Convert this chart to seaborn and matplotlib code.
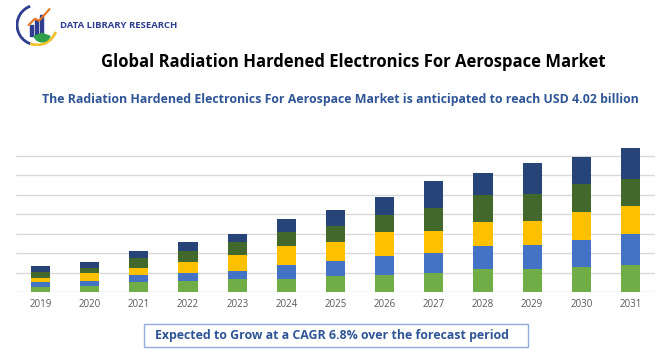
import matplotlib
matplotlib.use('Agg')
import matplotlib.pyplot as plt
import seaborn as sns
import numpy as np
import pandas as pd
from matplotlib.patches import Rectangle, Arc, Wedge

# 数据
years = ['2019', '2020', '2021', '2022', '2023', '2024', '2025',
         '2026', '2027', '2028', '2029', '2030', '2031']
seg1 = [0.24, 0.29, 0.50, 0.55, 0.65, 0.68, 0.81, 0.89, 0.99, 1.17, 1.20, 1.28, 1.40]
seg2 = [0.29, 0.26, 0.36, 0.41, 0.43, 0.69, 0.77, 0.94, 1.00, 1.18, 1.23, 1.40, 1.59]
seg3 = [0.21, 0.41, 0.39, 0.60, 0.82, 0.98, 1.01, 1.23, 1.13, 1.23, 1.23, 1.42, 1.42]
seg4 = [0.31, 0.29, 0.50, 0.56, 0.65, 0.75, 0.82, 0.89, 1.18, 1.40, 1.39, 1.42, 1.39]
seg5 = [0.29, 0.29, 0.34, 0.43, 0.43, 0.65, 0.79, 0.94, 1.42, 1.14, 1.56, 1.40, 1.59]
seg_colors = ['#70AD47', '#4472C4', '#FFC000', '#43682B', '#264478']

title = 'Global Radiation Hardened Electronics For Aerospace Market'
subtitle = 'The Radiation Hardened Electronics For Aerospace Market is anticipated to reach USD 4.02 billion'
footer = 'Expected to Grow at a CAGR 6.8% over the forecast period'

sns.set_style('white')
plt.rcParams['font.family'] = ['Open Sans', 'DejaVu Sans']

fig = plt.figure(figsize=(6.7, 3.5), dpi=100)
ax = fig.add_axes([16 / 670, 58 / 350, 639 / 670, 7.5 * 19.48 / 350])

# 堆叠柱状图: 从总量开始往下画
segs = [seg1, seg2, seg3, seg4, seg5]
cum = np.cumsum(np.array(segs), axis=0)
for i in range(4, -1, -1):
    df = pd.DataFrame({'year': years, 'val': cum[i]})
    sns.barplot(data=df, x='year', y='val', color=seg_colors[i], saturation=1,
                width=0.39, ax=ax, zorder=3, linewidth=0, edgecolor='none')

ax.set_xlim(-0.5, 12.5)
ax.set_ylim(0, 7.5)
ax.set_yticks(range(0, 8))
ax.set_yticklabels([])
ax.yaxis.grid(True, color='#D9D9D9', linewidth=1)
ax.set_axisbelow(True)
ax.set_xlabel('')
ax.set_ylabel('')
for s in ax.spines.values():
    s.set_visible(False)
ax.tick_params(axis='both', length=0)
ax.tick_params(axis='x', labelsize=7, labelcolor='#595959', pad=5)

# 标题
fig.text(353 / 670, (350 - 62) / 350, title, ha='center', va='center',
         fontsize=12, fontweight='bold', color='black')
fig.text(340 / 670, (350 - 100) / 350, subtitle, ha='center', va='center',
         fontsize=8.9, fontweight='bold', color='#2F5597')

# 底部框
fig.patches.append(Rectangle((144 / 670, 3 / 350), 384 / 670, 23 / 350,
                             transform=fig.transFigure, facecolor='white',
                             edgecolor='#8FAADC', linewidth=1))
fig.text(332 / 670, 15 / 350, footer, ha='center', va='center',
         fontsize=8.9, fontweight='bold', color='#2F5597')

# logo
lax = fig.add_axes([16 / 670, 304 / 350, 42 / 670, 42 / 350])
lax.set_xlim(0, 1)
lax.set_ylim(0, 1)
lax.axis('off')
lax.add_patch(Arc((0.5, 0.5), 0.95, 0.95, theta1=110, theta2=250, color='#2E3D8F', linewidth=2))
lax.add_patch(Arc((0.5, 0.5), 0.95, 0.95, theta1=250, theta2=340, color='#F2C12E', linewidth=2))
for bx, bh in zip([0.33, 0.45, 0.57], [0.25, 0.38, 0.5]):
    lax.add_patch(Rectangle((bx, 0.25), 0.08, bh, color='#2E3D8F'))
lax.plot([0.3, 0.45, 0.55, 0.8], [0.5, 0.65, 0.6, 0.88], color='#E87722', linewidth=1.5)
lax.add_patch(Wedge((0.62, 0.3), 0.2, 200, 340, color='#2E9E4A'))
fig.text(60 / 670, (350 - 25) / 350, 'DATA LIBRARY RESEARCH', ha='left', va='center',
         fontsize=6.8, fontweight='bold', color='#2E3D8F')

plt.savefig('out.png', dpi=100)
